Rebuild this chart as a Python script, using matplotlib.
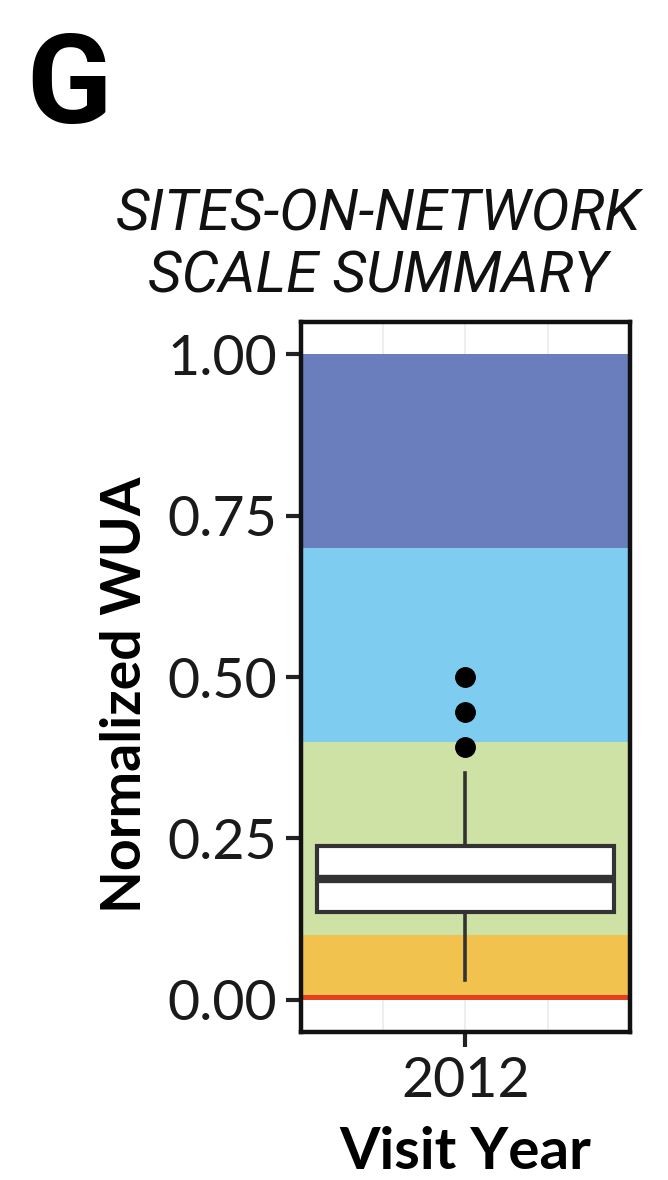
import matplotlib
matplotlib.use("Agg")
import matplotlib.pyplot as plt

# ---- data ----
category = ["2012"]
band_edges = [0.0, 0.008, 0.1, 0.4, 0.7, 1.0]
band_colors = ["#e5401f", "#f2c24f", "#cfe2a5", "#7ecdf0", "#6a7ebd"]
q1, median, q3 = 0.136, 0.187, 0.238
whisker_low, whisker_high = 0.031, 0.352
outliers = [0.392, 0.446, 0.500]
yticks = [0.00, 0.25, 0.50, 0.75, 1.00]
ytick_labels = ["0.00", "0.25", "0.50", "0.75", "1.00"]

fig = plt.figure(figsize=(6.68, 11.8), dpi=100)
ax = fig.add_axes([0.4506, 0.1254, 0.4925, 0.6017])

ax.set_xlim(0.5, 1.5)
ax.set_ylim(-0.05, 1.05)

# faint grid lines
for gx in [0.75, 1.0, 1.25]:
    ax.axvline(gx, color="#ebebeb", lw=1.2, zorder=0)

# bands
for i, c in enumerate(band_colors):
    ax.axhspan(band_edges[i], band_edges[i + 1], color=c, lw=0, zorder=1)

stats = [dict(med=median, q1=q1, q3=q3, whislo=whisker_low, whishi=whisker_high,
              fliers=outliers, label=category[0])]
ax.bxp(stats, positions=[1], widths=0.9, patch_artist=True, showcaps=False,
       boxprops=dict(facecolor="white", edgecolor="#333333", linewidth=3.0),
       whiskerprops=dict(color="#333333", linewidth=2.6),
       medianprops=dict(color="#333333", linewidth=6.0, solid_capstyle="butt"),
       flierprops=dict(marker="o", markerfacecolor="black", markeredgecolor="black",
                       markersize=14),
       zorder=3)

tick_font = "Lato"
ax.set_yticks(yticks)
ax.set_yticklabels(ytick_labels, fontsize=40, family=tick_font, color="#1a1a1a")
ax.set_xticks([1])
ax.set_xticklabels(category, fontsize=40, family=tick_font, color="#1a1a1a")
ax.tick_params(axis="both", length=11, width=3, color="#222222", pad=6)

for s in ax.spines.values():
    s.set_linewidth(3.2)
    s.set_color("#111111")

ax.set_ylabel("Normalized WUA", fontsize=40, fontweight="bold", family=tick_font)
ax.yaxis.set_label_coords(-0.46, 0.475)
ax.set_xlabel("Visit Year", fontsize=42, fontweight="bold", family=tick_font, labelpad=14)

fig.text(0.566, 0.7915, "SITES-ON-NETWORK\nSCALE SUMMARY", ha="center", va="center",
         fontsize=42, style="italic", family=["Roboto", "DejaVu Sans"],
         linespacing=1.15, color="#111111")
fig.text(0.04, 0.975, "G", ha="left", va="top", fontsize=90, fontweight="bold",
         family=["Roboto", "DejaVu Sans"], color="black")

fig.savefig("out.png", dpi=100)
